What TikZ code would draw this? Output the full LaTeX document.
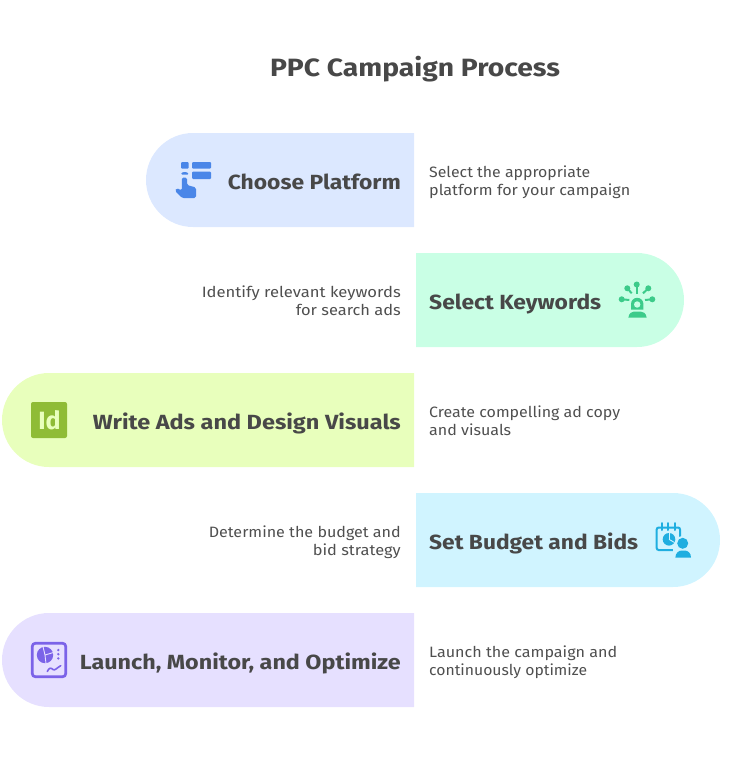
\documentclass[tikz,border=0pt]{standalone}
\usepackage{fontspec}
\usepackage{graphicx}
\setmainfont{Fira Sans}
\newfontfamily\headface[FakeStretch=1.12]{Fira Sans}
\newfontfamily\descface[FakeStretch=1.08]{Fira Sans}
\newcommand{\fitx}[2]{\resizebox{#1pt}{\height}{#2}}
\definecolor{ink}{HTML}{484848}
\definecolor{descink}{HTML}{4F4F4F}
\definecolor{fblue}{HTML}{DCE8FF}
\definecolor{fgreen}{HTML}{C9FFE5}
\definecolor{flime}{HTML}{E8FFBC}
\definecolor{fcyan}{HTML}{D0F4FF}
\definecolor{fpurple}{HTML}{E6E0FF}
\definecolor{iblue}{HTML}{4A86E8}
\definecolor{igreen}{HTML}{3CCB8A}
\definecolor{ilime}{HTML}{8FBC36}
\definecolor{icyan}{HTML}{1FAEE0}
\definecolor{ipurple}{HTML}{7B63E8}
\tikzset{
  titletext/.style={font=\headface\fontsize{25}{30}\selectfont\bfseries,text=ink,inner sep=0pt,anchor=base},
  headl/.style={font=\headface\fontsize{20.5}{24}\selectfont\bfseries,text=ink,inner sep=0pt,anchor=base east},
  headr/.style={font=\headface\fontsize{20.5}{24}\selectfont\bfseries,text=ink,inner sep=0pt,anchor=base west},
  descl/.style={font=\descface\fontsize{15}{18}\selectfont,text=descink,inner sep=0pt,anchor=west,align=left},
  descr/.style={font=\descface\fontsize{15}{18}\selectfont,text=descink,inner sep=0pt,anchor=east,align=right},
}
\begin{document}
\begin{tikzpicture}[x=1pt,y=-1pt]
\useasboundingbox (0,0) rectangle (751,781);
% bands
\fill[fblue] (414,133) -- (193,133) arc[start angle=270,end angle=90,radius=47] -- (414,227) -- cycle;
\fill[fgreen] (416,253) -- (637,253) arc[start angle=-90,end angle=90,radius=47] -- (416,347) -- cycle;
\fill[flime] (414,373) -- (49,373) arc[start angle=270,end angle=90,radius=47] -- (414,467) -- cycle;
\fill[fcyan] (416,493) -- (673,493) arc[start angle=-90,end angle=90,radius=47] -- (416,587) -- cycle;
\fill[fpurple] (414,613) -- (49,613) arc[start angle=270,end angle=90,radius=47] -- (414,707) -- cycle;
% texts
\node[titletext] (title) at (415,77) {\fitx{290}{PPC Campaign Process}};
\node[headl] (h1) at (401,189) {\fitx{173}{Choose Platform}};
\node[headr] (h2) at (429,309) {\fitx{172}{Select Keywords}};
\node[headl] (h3) at (401,429) {\fitx{308}{Write Ads and Design Visuals}};
\node[headr] (h4) at (429,549) {\fitx{209}{Set Budget and Bids}};
\node[headl] (h5) at (401,669) {\fitx{321}{Launch, Monitor, and Optimize}};
\node[descl] (d1) at (429,182) {\fitx{161}{Select the appropriate}\\\fitx{201}{platform for your campaign}};
\node[descr] (d2) at (401,301) {\fitx{199}{Identify relevant keywords}\\\fitx{105}{for search ads}};
\node[descl] (d3) at (429,421) {\fitx{191}{Create compelling ad copy}\\\fitx{82}{and visuals}};
\node[descr] (d4) at (401,542) {\fitx{192}{Determine the budget and}\\\fitx{88}{bid strategy}};
\node[descl] (d5) at (429,662) {\fitx{188}{Launch the campaign and}\\\fitx{158}{continuously optimize}};
% icon 1
\begin{scope}[iblue]
\fill[rounded corners=1pt] (181,162) rectangle (188.7,168.7);
\fill[rounded corners=1pt] (192,162) rectangle (211,168.7);
\fill[rounded corners=1pt] (192,171.7) rectangle (211,179);
\fill[rounded corners=1pt] (181,174.5) .. controls (182,171.5) and (187.5,171.5) .. (188.7,174.5) -- cycle;
\fill[rounded corners=1.6pt] (181.8,177.5) -- (187,177.5) -- (187,185) -- (196,187.5) -- (196,198) -- (182,198) -- (175,191) -- (176.5,188) -- (181.8,190.5) -- cycle;
\end{scope}
% icon 2
\begin{scope}[line width=2pt]
\fill[igreen] (636.7,284.5) circle[radius=3];
\fill[igreen] (627.3,288.3) circle[radius=3];
\fill[igreen] (648.3,288.3) circle[radius=3];
\fill[igreen] (621.7,299.3) circle[radius=3];
\fill[igreen] (652.3,299.3) circle[radius=3];
\draw[igreen] (636.7,284.5) -- (636.7,293.5);
\draw[igreen] (627.3,288.3) -- (631.7,293.3);
\draw[igreen] (648.3,288.3) -- (643,293.3);
\draw[igreen] (621.7,299.3) -- (629.3,300);
\draw[igreen] (652.3,299.3) -- (645,300);
\fill[igreen] (631,309.5) -- (631,304) arc[start angle=180,end angle=360,radius=6.2] -- (643.4,309.5) -- cycle;
\fill[fgreen] (637.2,304.5) circle[radius=3.2];
\fill[igreen] (628.3,317.7) .. controls (629,313) and (632,311.5) .. (634,311.5) -- (640.5,311.5) .. controls (643,311.5) and (646,313) .. (646.7,317.7) -- cycle;
\end{scope}
% icon 3
\fill[ilime,rounded corners=2pt] (31,402) rectangle (67,438);
\node[inner sep=0pt,text=flime,font=\fontsize{25}{30}\selectfont\bfseries] (idlogo) at (49.5,420) {Id};
% icon 4
\begin{scope}
\draw[icyan,line width=2pt,rounded corners=2pt] (656.7,527.5) rectangle (680,550);
\foreach \x in {661.7,668.3,675}{\draw[icyan,line width=2pt,line cap=round] (\x,523) -- (\x,530);}
\fill[icyan] (669,539.3) circle[radius=6.3];
\draw[fcyan,line width=.9pt] (669,539.3) -- (669,533);
\draw[fcyan,line width=.9pt] (669,539.3) -- (674.5,542.5);
\fill[fcyan] (682.7,543.3) circle[radius=7.3];
\fill[fcyan] (672.5,548.5) rectangle (693,559);
\fill[icyan] (682.7,543.3) circle[radius=5.5];
\fill[icyan] (675.3,557.7) .. controls (675.5,553) and (678.5,550.5) .. (682,550.5) -- (684.5,550.5) .. controls (688,550.5) and (691,553) .. (691,557.7) -- cycle;
\end{scope}
% icon 5
\draw[ipurple,line width=2.7pt,rounded corners=3pt] (32.3,643.3) rectangle (65.7,676.7);
\fill[ipurple] (45,655) circle[radius=8.2];
\draw[fpurple,line width=.9pt] (45,655) -- (43,646.5);
\draw[fpurple,line width=.9pt] (45,655) -- (53.5,652.5);
\draw[fpurple,line width=.9pt] (45,655) -- (46,663.5);
\foreach \y in {650,654.2,658.4}{\fill[ipurple] (58.3,\y) circle[radius=1.3];}
\draw[ipurple,line width=1.6pt,line join=round,line cap=round] (47.3,671.5) .. controls (49,667.5) and (51,667.5) .. (53,669.5) .. controls (55,671) and (56.5,668) .. (60.7,665.7);
\end{tikzpicture}
\end{document}
